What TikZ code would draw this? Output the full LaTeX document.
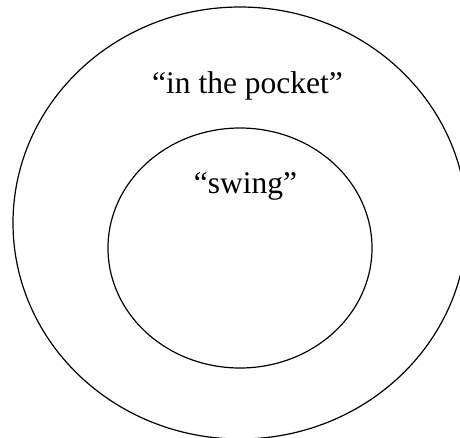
\documentclass[tikz,border=0pt]{standalone}
\usepackage{fontspec}
\setmainfont{Liberation Serif}
\usetikzlibrary{shapes.geometric}
\tikzset{ring/.style={draw=black, line width=1.2pt},
  lbl/.style={font=\fontsize{31.5}{36}\selectfont, inner sep=0pt, anchor=base}}
\begin{document}
\begin{tikzpicture}[x=1pt,y=-1pt]
\useasboundingbox (0,0) rectangle (460,437);
\clip (0,0) rectangle (460,437);
\node[ring, ellipse, minimum width=454pt, minimum height=432pt, inner sep=0pt] (outer) at (240,223) {};
\node[ring, ellipse, minimum width=264pt, minimum height=240pt, inner sep=0pt] (inner) at (240,248) {};
\node[lbl] (pocket) at (247.5,93) {“in the pocket”};
\node[lbl] (swing) at (245.5,193) {“swing”};
\end{tikzpicture}
\end{document}
